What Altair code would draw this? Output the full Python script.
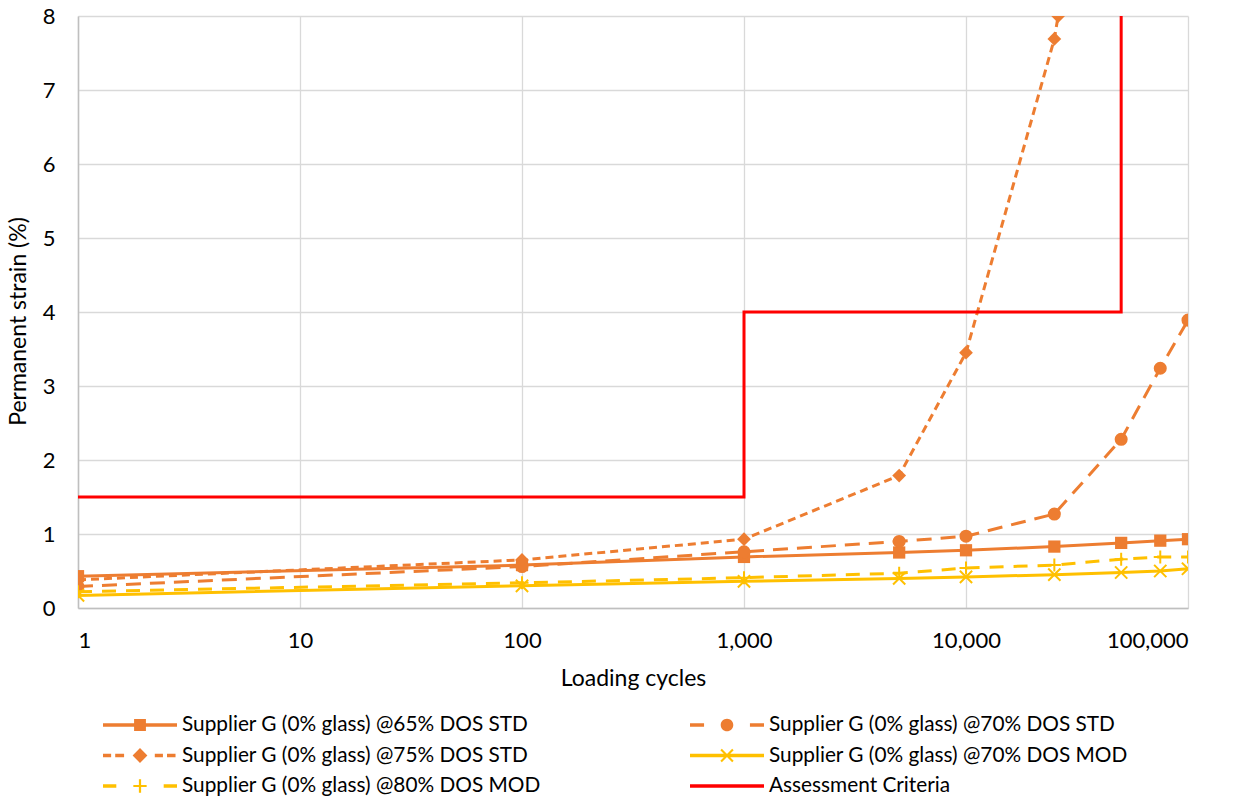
import altair as alt
import pandas as pd

FONT = "Lato"

series_names = [
    "Supplier G (0% glass) @65% DOS STD",
    "Supplier G (0% glass) @70% DOS STD",
    "Supplier G (0% glass) @75% DOS STD",
    "Supplier G (0% glass) @70% DOS MOD",
    "Supplier G (0% glass) @80% DOS MOD",
    "Assessment Criteria",
]

cycles = [1, 100, 1000, 5000, 10000, 25000, 50000, 75000, 100000]
strain_65_std = [0.43, 0.58, 0.69, 0.75, 0.78, 0.83, 0.88, 0.91, 0.93]
strain_70_std = [0.29, 0.56, 0.76, 0.90, 0.97, 1.27, 2.28, 3.24, 3.89]
cycles_75_std = [1, 100, 1000, 5000, 10000, 25000, 26000]
strain_75_std = [0.38, 0.65, 0.93, 1.79, 3.45, 7.69, 8.0]
strain_70_mod = [0.17, 0.30, 0.36, 0.40, 0.42, 0.45, 0.48, 0.50, 0.53]
strain_80_mod = [0.22, 0.34, 0.41, 0.47, 0.54, 0.58, 0.66, 0.69, 0.69]
cycles_criteria = [1, 1000, 1000, 50000, 50000]
strain_criteria = [1.5, 1.5, 4, 4, 8]

x_ticks = [1, 10, 100, 1000, 10000, 100000]
y_ticks = [0, 1, 2, 3, 4, 5, 6, 7, 8]

series_x = [cycles, cycles, cycles_75_std, cycles, cycles, cycles_criteria]
series_y = [strain_65_std, strain_70_std, strain_75_std, strain_70_mod, strain_80_mod, strain_criteria]

rows = []
for name, xs, ys in zip(series_names, series_x, series_y):
    for i, (xv, yv) in enumerate(zip(xs, ys)):
        rows.append({"series": name, "cycles": xv, "strain": yv, "idx": i})
df = pd.DataFrame(rows)

ORANGE = "#ED7D31"
YELLOW = "#FFC000"
RED = "#FF0000"
colors = [ORANGE, ORANGE, ORANGE, YELLOW, YELLOW, RED]
dashes = [None, [15, 9], [8, 5], None, [14, 10], None]

X_PATH = "M-1,-1L1,1M-1,1L1,-1"
PLUS_PATH = "M-1,0L1,0M0,-1L0,1"
markers = [
    ("square", True, 150),
    ("circle", True, 170),
    ("diamond", True, 190),
    (X_PATH, False, 150),
    (PLUS_PATH, False, 170),
    None,
]

# legend symbol paths (unit box -1..1 across the symbol width)
T = 0.045
def hbar(a, b, t=T):
    return f"M{a},{-t}H{b}V{t}H{a}Z"

leg_solid = hbar(-1, 1)
leg_square = leg_solid + "M-0.16,-0.16H0.16V0.16H-0.16Z"
leg_circle = (hbar(-1, -0.62) + hbar(0.62, 1)
              + "M-0.17,0A0.17,0.17 0 1,1 0.17,0A0.17,0.17 0 1,1 -0.17,0Z")
leg_diamond = (hbar(-1, -0.78) + hbar(-0.67, -0.43) + hbar(0.40, 0.62) + hbar(0.73, 0.96)
               + "M-0.2,0L0,-0.2L0.2,0L0,0.2Z")
leg_x = (leg_solid
         + "M-0.18,-0.14L-0.14,-0.18L0.18,0.14L0.14,0.18Z"
         + "M0.14,-0.18L0.18,-0.14L-0.14,0.18L-0.18,0.14Z")
leg_plus = (hbar(-1, -0.64) + hbar(0.64, 1)
            + hbar(-0.18, 0.18, 0.03) + "M-0.03,-0.18H0.03V0.18H-0.03Z")
legend_paths = [leg_square, leg_circle, leg_diamond, leg_x, leg_plus, leg_solid]

X = alt.X(
    "cycles:Q",
    scale=alt.Scale(type="log", domain=[1, 100000]),
    axis=alt.Axis(values=x_ticks, format=",", title="Loading cycles",
                  labelPadding=22, titlePadding=16, tickSize=0, grid=True),
)
Y = alt.Y(
    "strain:Q",
    scale=alt.Scale(domain=[0, 8], nice=False),
    axis=alt.Axis(values=y_ticks, title="Permanent strain (%)",
                  labelPadding=23, titlePadding=12, titleY=305, tickSize=0, grid=True),
)

base = alt.Chart(df)
layers = []
for i, name in enumerate(series_names):
    sub = base.transform_filter(alt.datum.series == name)
    line_kwargs = dict(color=colors[i], strokeWidth=3, clip=True)
    if dashes[i] is not None:
        line_kwargs["strokeDash"] = dashes[i]
    layers.append(sub.mark_line(**line_kwargs).encode(x=X, y=Y, order="idx:Q"))
    if markers[i] is not None:
        shape, filled, size = markers[i]
        if filled:
            pm = sub.mark_point(shape=shape, filled=True, size=size, color=colors[i],
                                opacity=1, clip=True)
        else:
            pm = sub.mark_point(shape=shape, filled=False, size=size, color=colors[i],
                                strokeWidth=2, opacity=1, clip=True)
        layers.append(pm.encode(x=X, y=Y))

legend = alt.Legend(
    title=None, orient="none", legendX=25, legendY=698, columns=2,
    direction="horizontal", clipHeight=22,
    columnPadding=149, rowPadding=8.5, padding=0,
    symbolSize=5476, symbolStrokeWidth=0, symbolOpacity=1,
    labelFont=FONT, labelFontSize=20.8, labelColor="#000000", labelOffset=5,
    labelLimit=0,
)
driver = base.mark_point(filled=True, opacity=0).encode(
    x=X, y=Y,
    fill=alt.Fill("series:N", scale=alt.Scale(domain=series_names, range=colors), legend=legend),
    shape=alt.Shape("series:N", scale=alt.Scale(domain=series_names, range=legend_paths), legend=legend),
)
layers.append(driver)

chart = alt.layer(*layers).properties(
    width=1110, height=592,
    autosize=alt.AutoSizeParams(type="none"),
    padding={"left": 78, "top": 16, "right": 54, "bottom": 192},
    background="white",
).configure_view(stroke=None).configure_axis(
    labelFont=FONT, labelFontSize=22, labelColor="#000000",
    titleFont=FONT, titleFontSize=23, titleColor="#000000", titleFontWeight="normal",
    gridColor="#d9d9d9", gridWidth=1.3, domainColor="#bfbfbf", domainWidth=1.5,
)

chart.save("out.html", embed_options={"renderer": "svg", "actions": False})
